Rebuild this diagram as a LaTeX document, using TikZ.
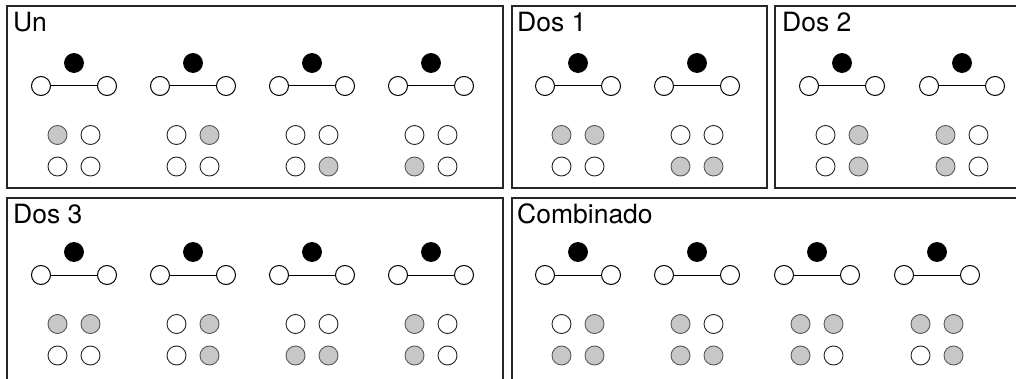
\documentclass[tikz,border=0pt]{standalone}
\usepackage{fontspec}
\setmainfont{TeX Gyre Heros}
\tikzset{
  panel/.style={draw=black!85, line width=1.2pt},
  lbl/.style={anchor=base west, inner sep=0pt, font=\fontsize{26.5}{31}\selectfont},
  blk/.style={circle, fill=black, draw=black, line width=0.8pt, minimum size=19pt, inner sep=0pt},
  wht/.style={circle, fill=white, draw=black, line width=1pt, minimum size=19pt, inner sep=0pt},
  gdot/.style={circle, fill=black!22, draw=black!65, line width=0.9pt, minimum size=19pt, inner sep=0pt},
  wdot/.style={circle, fill=white, draw=black!85, line width=0.9pt, minimum size=19pt, inner sep=0pt},
  conn/.style={draw=black, line width=1pt},
}
\newcommand\grp[7]{%
  \node[blk] (#1b) at (#2,#3) {};
  \node[wht] (#1l) at (#2-33,#3+23) {};
  \node[wht] (#1r) at (#2+33,#3+23) {};
  \draw[conn] (#1l) -- (#1r);
  \node[#4] (#1p) at (#2-16.5,#3+72) {};
  \node[#5] (#1q) at (#2+16.5,#3+72) {};
  \node[#6] (#1s) at (#2-16.5,#3+103.5) {};
  \node[#7] (#1t) at (#2+16.5,#3+103.5) {};
}
\begin{document}
\begin{tikzpicture}[x=1pt,y=-1pt]
\useasboundingbox (0,0) rectangle (1016,379);
\clip (0,0) rectangle (1016,379);
% panels
\draw[panel] (7,6) rectangle (503,188);
\draw[panel] (512,6) rectangle (767,188);
\draw[panel] (775,6) rectangle (1030,188);
\draw[panel] (7,198) rectangle (503,400);
\draw[panel] (512,198) rectangle (1030,400);
% labels
\node[lbl] (tun) at (13,32) {Un};
\node[lbl] (td1) at (517,32) {Dos 1};
\node[lbl] (td2) at (782,32) {Dos 2};
\node[lbl] (td3) at (13,224) {Dos 3};
\node[lbl] (tco) at (517,224) {Combinado};
% Un
\grp{ua}{74}{63}{gdot}{wdot}{wdot}{wdot}
\grp{ub}{193}{63}{wdot}{gdot}{wdot}{wdot}
\grp{uc}{312}{63}{wdot}{wdot}{wdot}{gdot}
\grp{ud}{431}{63}{wdot}{wdot}{gdot}{wdot}
% Dos 1
\grp{da}{578}{63}{gdot}{gdot}{wdot}{wdot}
\grp{db}{697}{63}{wdot}{wdot}{gdot}{gdot}
% Dos 2
\grp{ea}{842}{63}{wdot}{gdot}{wdot}{gdot}
\grp{eb}{962}{63}{gdot}{wdot}{gdot}{wdot}
% Dos 3
\grp{fa}{74}{252}{gdot}{gdot}{wdot}{wdot}
\grp{fb}{193}{252}{wdot}{gdot}{wdot}{gdot}
\grp{fc}{312}{252}{wdot}{wdot}{gdot}{gdot}
\grp{fd}{431}{252}{gdot}{wdot}{gdot}{wdot}
% Combinado
\grp{ca}{578}{252}{wdot}{gdot}{gdot}{gdot}
\grp{cb}{697}{252}{gdot}{wdot}{gdot}{gdot}
\grp{cc}{817}{252}{gdot}{gdot}{gdot}{wdot}
\grp{cd}{937}{252}{gdot}{gdot}{wdot}{gdot}
\end{tikzpicture}
\end{document}
